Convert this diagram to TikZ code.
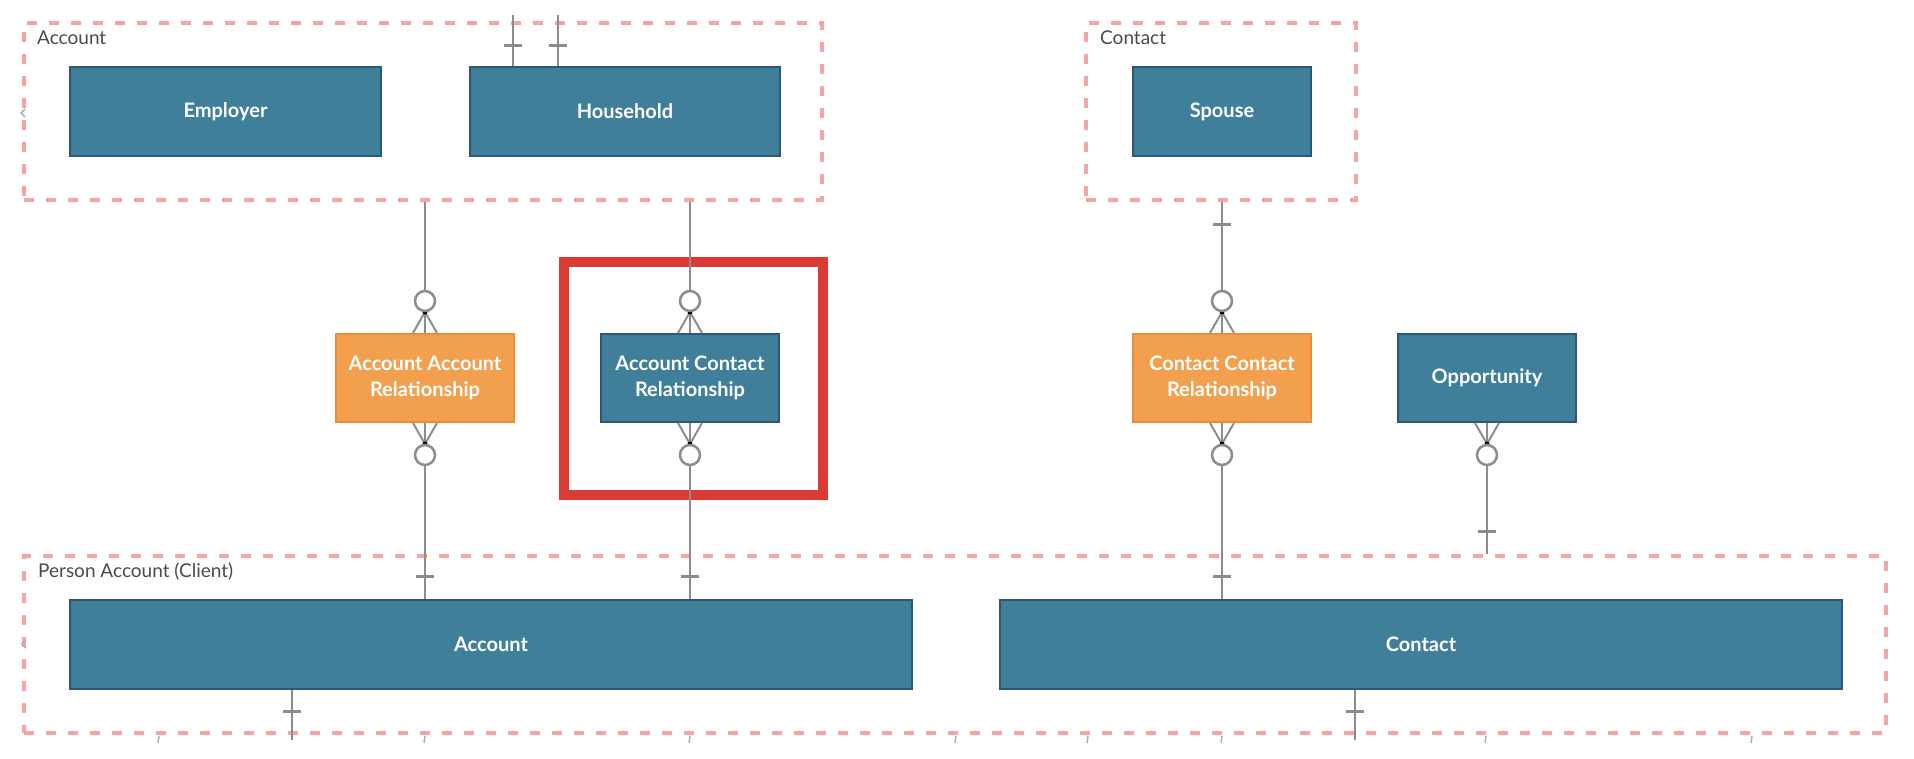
\documentclass[tikz,border=0pt]{standalone}
\usepackage{fontspec}
\setmainfont{Lato}
\usetikzlibrary{calc}
\definecolor{entfill}{HTML}{3F7F9A}
\definecolor{entdraw}{HTML}{2A5878}
\definecolor{juncfill}{HTML}{F2A04E}
\definecolor{juncdraw}{HTML}{EE8B3A}
\definecolor{grpcol}{HTML}{F5A5A5}
\definecolor{labcol}{HTML}{4A4A4A}
\definecolor{conncol}{HTML}{8C8C8C}
\definecolor{hlcol}{HTML}{DC3A34}
\tikzset{
  zeromany/.pic={
    \draw[conncol, line width=2pt] (0,-21) -- (-12,0) (0,-21) -- (12,0);
    \fill[black] (0,-21) circle (2.5pt);
    \draw[conncol, line width=2.5pt, fill=white] (0,-32) circle (10pt);
  },
  onebar/.pic={\draw[conncol, line width=3pt] (-9,0) -- (9,0);}
}
\begin{document}
\begin{tikzpicture}[x=1pt,y=-1pt,
  ent/.style={rectangle, fill=entfill, draw=entdraw, line width=2pt, text=white,
    font=\fontsize{20}{26}\selectfont\bfseries, align=center, inner sep=0pt, minimum height=89pt},
  junc/.style={ent, fill=juncfill, draw=juncdraw},
  grp/.style={rectangle, draw=grpcol, line width=3.5pt, dash pattern=on 10pt off 12pt,
    inner sep=0pt, minimum height=177pt},
  grplabel/.style={anchor=west, text=labcol, font=\fontsize{19}{22}\selectfont, inner sep=0pt},
  conn/.style={draw=conncol, line width=2.5pt},
  stub/.style={draw=conncol!70, line width=1.5pt}
]
\useasboundingbox (0,0) rectangle (1914,758);

% groups
\node[grp, minimum width=798pt] (gacc) at (423,111.5) {};
\node[grp, minimum width=270pt] (gcon) at (1221,111.5) {};
\node[grp, minimum width=1862pt] (gper) at (955,644.5) {};
\node[grplabel] (lacc) at (37,38) {Account};
\node[grplabel] (lcon) at (1100,38) {Contact};
\node[grplabel] (lper) at (38,572) {Person Account (Client)};

% entities
\node[ent, minimum width=311pt] (employer) at (225.5,111.5) {Employer};
\node[ent, minimum width=310pt] (household) at (625,111.5) {Household};
\node[ent, minimum width=178pt] (spouse) at (1222,111.5) {Spouse};
\node[junc, minimum width=178pt, minimum height=88pt] (aar) at (425,378) {Account Account\\Relationship};
\node[ent, minimum width=178pt, minimum height=88pt] (acr) at (690,378) {Account Contact\\Relationship};
\node[junc, minimum width=178pt, minimum height=88pt] (ccr) at (1222,378) {Contact Contact\\Relationship};
\node[ent, minimum width=178pt, minimum height=88pt] (opp) at (1487,378) {Opportunity};
\node[ent, minimum width=842pt] (accbig) at (491,644.5) {Account};
\node[ent, minimum width=842pt] (conbig) at (1421,644.5) {Contact};

% highlight
\node[draw=hlcol, line width=10pt, minimum width=259pt, minimum height=233pt, inner sep=0pt] (hl) at (693.5,378.5) {};

% connectors
\draw[conn] (gacc.south -| aar.north) -- (aar.north);
\draw[conn] (aar.south) -- (accbig.north -| aar.south);
\draw[conn] (gacc.south -| acr.north) -- (acr.north);
\draw[conn] (acr.south) -- (accbig.north -| acr.south);
\draw[conn] (gcon.south -| ccr.north) -- (ccr.north);
\draw[conn] (ccr.south) -- (conbig.north -| ccr.south);
\draw[conn] (opp.south) -- (gper.north -| opp.south);

\coordinate (hh1) at (513,15);
\coordinate (hh2) at (558,15);
\draw[conn] (hh1) -- (hh1 |- household.north);
\draw[conn] (hh2) -- (hh2 |- household.north);
\coordinate (ab) at (292,740);
\coordinate (cb) at (1355,740);
\draw[conn] (ab |- accbig.south) -- (ab);
\draw[conn] (cb |- conbig.south) -- (cb);

% crow's feet
\pic at (aar.north) {zeromany};
\pic[rotate=180] at (aar.south) {zeromany};
\pic at (acr.north) {zeromany};
\pic[rotate=180] at (acr.south) {zeromany};
\pic at (ccr.north) {zeromany};
\pic[rotate=180] at (ccr.south) {zeromany};
\pic[rotate=180] at (opp.south) {zeromany};

% one bars
\pic at ($(accbig.north -| aar.south)+(0,-23)$) {onebar};
\pic at ($(accbig.north -| acr.south)+(0,-23)$) {onebar};
\pic at ($(conbig.north -| ccr.south)+(0,-23)$) {onebar};
\pic at ($(gcon.south -| ccr.north)+(0,23)$) {onebar};
\pic at ($(gper.north -| opp.south)+(0,-23)$) {onebar};
\pic at ($(hh1 |- household.north)+(0,-21)$) {onebar};
\pic at ($(hh2 |- household.north)+(0,-21)$) {onebar};
\pic at ($(ab |- accbig.south)+(0,21)$) {onebar};
\pic at ($(cb |- conbig.south)+(0,21)$) {onebar};

% cut-off fragments
\foreach \sx in {159,425,690,956,1088,1222,1486,1752}
  \draw[stub] (\sx,736) -- (\sx-1,743);
\draw[stub] (25,109) -- (21,113) -- (25,117);
\draw[stub] (26,640) -- (22,644) -- (26,648);
\end{tikzpicture}
\end{document}
